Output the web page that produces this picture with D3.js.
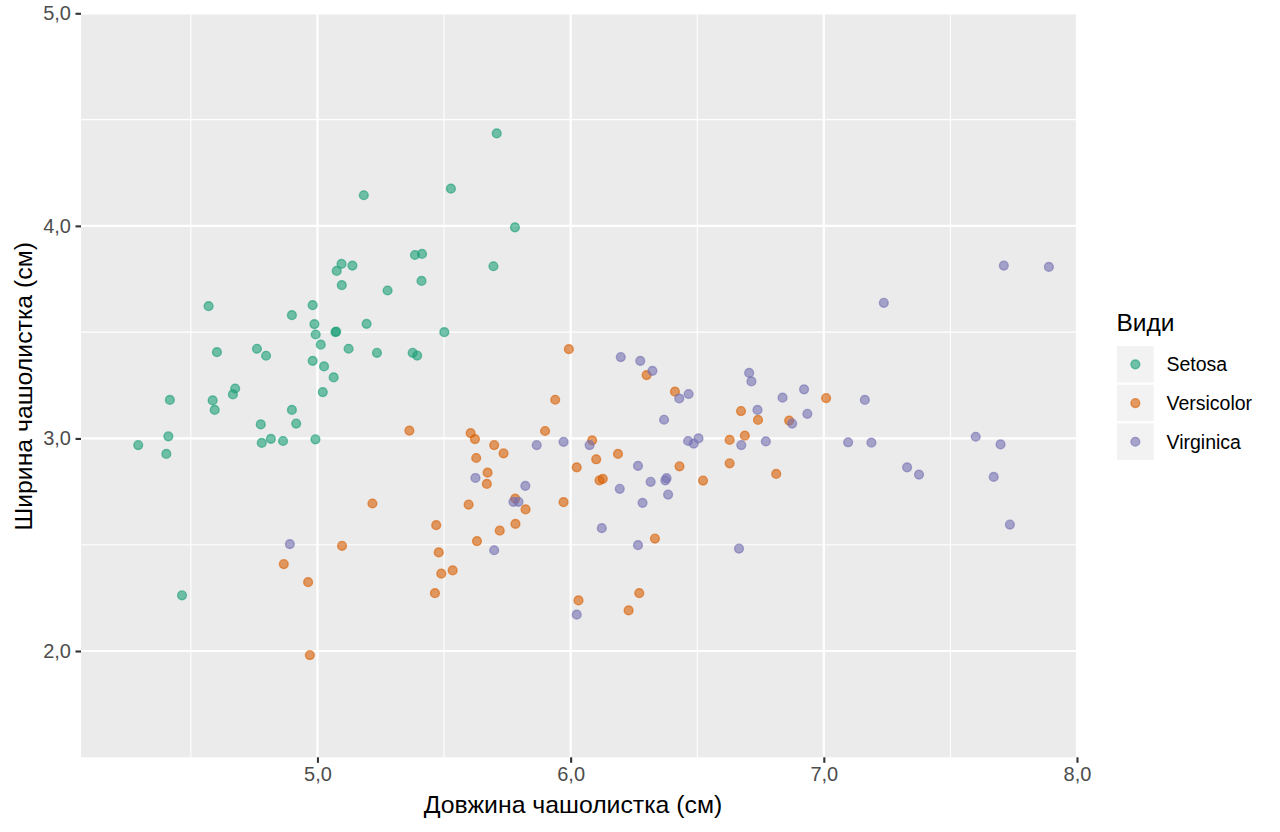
<!DOCTYPE html>
<html>
<head>
<meta charset="utf-8">
<script src="https://cdn.jsdelivr.net/npm/d3@7"></script>
<style>
  html, body { margin: 0; padding: 0; background: #fff; }
  svg { display: block; font-family: "Liberation Sans", Arial, Helvetica, sans-serif; }
</style>
</head>
<body>
<svg id="chart" width="1280" height="832"></svg>
<script>
// ---- Data (sepal length, sepal width) ----
const speciesNames = ["Setosa", "Versicolor", "Virginica"];
const speciesColors = ["#1B9E77", "#D95F02", "#7570B3"];

const setosa = [
  [5.708,4.435],[5.527,4.175],[5.183,4.144],[5.780,3.993],[5.385,3.863],[5.413,3.868],
  [5.695,3.810],[5.095,3.821],[5.138,3.813],[5.076,3.788],[5.096,3.721],[5.411,3.741],
  [5.277,3.696],[4.570,3.622],[4.981,3.627],[4.899,3.580],[4.988,3.538],[5.194,3.539],
  [4.993,3.489],[5.071,3.500],[5.074,3.503],[5.501,3.500],[5.013,3.441],[5.123,3.422],
  [5.235,3.403],[5.376,3.403],[5.394,3.390],[4.603,3.406],[4.761,3.422],[4.797,3.389],
  [4.981,3.365],[5.026,3.339],[5.064,3.287],[5.021,3.218],[4.675,3.235],[4.666,3.207],
  [4.417,3.181],[4.586,3.179],[4.594,3.134],[4.899,3.134],[4.916,3.070],[4.776,3.066],
  [4.411,3.010],[4.816,2.998],[4.780,2.979],[4.864,2.988],[4.992,2.996],[4.292,2.969],
  [4.403,2.927],[4.465,2.262]
];

const versicolor = [
  [5.363,3.037],[5.605,3.025],[5.622,2.997],[5.627,2.908],[5.597,2.689],[5.217,2.694],
  [5.469,2.592],[5.630,2.517],[5.097,2.495],[5.479,2.464],[4.867,2.409],[5.534,2.379],
  [5.489,2.364],[4.963,2.324],[5.464,2.272],[4.970,1.981],[5.993,3.420],[5.939,3.182],
  [5.899,3.035],[5.698,2.969],[5.735,2.930],[5.672,2.839],[5.669,2.786],[5.781,2.717],
  [5.822,2.666],[5.972,2.700],[6.300,3.298],[6.085,2.991],[6.101,2.902],[6.187,2.927],
  [6.024,2.864],[6.114,2.803],[6.127,2.810],[5.782,2.598],[5.720,2.566],[6.333,2.529],
  [6.271,2.272],[6.031,2.238],[6.229,2.191],[6.412,3.220],[6.673,3.129],[6.740,3.087],
  [6.863,3.084],[7.009,3.190],[6.688,3.013],[6.628,2.993],[6.430,2.869],[6.628,2.883],
  [6.523,2.802],[6.812,2.833]
];

const virginica = [
  [4.891,2.503],[5.624,2.814],[6.198,3.383],[6.275,3.365],[6.323,3.318],[6.369,3.088],
  [5.866,2.969],[5.972,2.984],[6.075,2.969],[6.266,2.871],[6.316,2.796],[6.374,2.803],
  [6.379,2.813],[6.194,2.763],[6.284,2.697],[6.385,2.736],[5.821,2.777],[5.774,2.702],
  [5.794,2.702],[6.123,2.578],[6.266,2.498],[5.698,2.474],[6.024,2.171],[6.705,3.308],
  [6.714,3.268],[6.429,3.188],[6.466,3.209],[6.837,3.192],[6.922,3.231],[6.738,3.134],
  [6.935,3.116],[6.875,3.070],[6.464,2.988],[6.486,2.976],[6.505,3.000],[6.674,2.969],
  [6.771,2.986],[6.665,2.482],[7.162,3.181],[7.711,3.813],[7.889,3.807],[7.237,3.638],
  [7.096,2.982],[7.188,2.980],[7.329,2.864],[7.376,2.830],[7.600,3.008],[7.698,2.972],
  [7.671,2.819],[7.735,2.595]
];

const xTicks = [5, 6, 7, 8];
const xMinor = [4.5, 5.5, 6.5, 7.5];
const yTicks = [2, 3, 4, 5];
const yMinor = [2.5, 3.5, 4.5];
const xTitle = "Довжина чашолистка (см)";
const yTitle = "Ширина чашолистка (см)";
const legendTitle = "Види";

// ---- Layout ----
const panel = { left: 81, right: 1077, top: 13.3, bottom: 757.3 };
const svg = d3.select("#chart");
const fmt = d => d3.format(".1f")(d).replace(".", ",");

const x = d3.scaleLinear().domain([4.066, 8.0]).range([panel.left, panel.right]);
const y = d3.scaleLinear().domain([1.5, 5.0]).range([panel.bottom, panel.top]);

// panel background
svg.append("rect")
  .attr("x", panel.left).attr("y", panel.top)
  .attr("width", panel.right - panel.left).attr("height", panel.bottom - panel.top)
  .attr("fill", "#EBEBEB");

const grid = svg.append("g");
// minor grid
grid.selectAll(".xminor").data(xMinor).join("line")
  .attr("x1", d => x(d)).attr("x2", d => x(d))
  .attr("y1", panel.top).attr("y2", panel.bottom)
  .attr("stroke", "#fff").attr("stroke-width", 1.1);
grid.selectAll(".yminor").data(yMinor).join("line")
  .attr("y1", d => y(d)).attr("y2", d => y(d))
  .attr("x1", panel.left).attr("x2", panel.right)
  .attr("stroke", "#fff").attr("stroke-width", 1.1);
// major grid
grid.selectAll(".xmajor").data(xTicks).join("line")
  .attr("x1", d => x(d)).attr("x2", d => x(d))
  .attr("y1", panel.top).attr("y2", panel.bottom)
  .attr("stroke", "#fff").attr("stroke-width", 2.2);
grid.selectAll(".ymajor").data(yTicks).join("line")
  .attr("y1", d => y(d)).attr("y2", d => y(d))
  .attr("x1", panel.left).attr("x2", panel.right)
  .attr("stroke", "#fff").attr("stroke-width", 2.2);

// axes
const xAxis = d3.axisBottom(x).tickValues(xTicks).tickFormat(fmt).tickSize(5.5).tickPadding(4);
const yAxis = d3.axisLeft(y).tickValues(yTicks).tickFormat(fmt).tickSize(5.5).tickPadding(4.5);

const gx = svg.append("g").attr("transform", `translate(0,${panel.bottom})`).call(xAxis);
const gy = svg.append("g").attr("transform", `translate(${panel.left},0)`).call(yAxis);
[gx, gy].forEach(g => {
  g.select(".domain").remove();
  g.selectAll(".tick line").attr("stroke", "#333333").attr("stroke-width", 2.1);
  g.selectAll(".tick text").attr("fill", "#4D4D4D").style("font-size", "20px")
    .style("font-family", "'Liberation Sans', Arial, sans-serif");
});

// points
const groups = [setosa, versicolor, virginica];
const pts = svg.append("g");
groups.forEach((arr, i) => {
  pts.append("g").selectAll("circle").data(arr).join("circle")
    .attr("cx", d => x(d[0])).attr("cy", d => y(d[1]))
    .attr("r", 4.4)
    .attr("fill", speciesColors[i]).attr("fill-opacity", 0.6)
    .attr("stroke", speciesColors[i]).attr("stroke-opacity", 0.6)
    .attr("stroke-width", 1.4);
});

// axis titles
svg.append("text")
  .attr("x", 573).attr("y", 813)
  .attr("text-anchor", "middle").attr("fill", "#000")
  .style("font-size", "24.8px").text(xTitle);
svg.append("text")
  .attr("transform", `translate(32,${(panel.top + panel.bottom) / 2 + 1}) rotate(-90)`)
  .attr("text-anchor", "middle").attr("fill", "#000")
  .style("font-size", "24.8px").text(yTitle);

// legend
const lg = svg.append("g");
lg.append("text").attr("x", 1116.5).attr("y", 330.5)
  .attr("fill", "#000").style("font-size", "24.5px").text(legendTitle);
const keySize = 38.7, keyX = 1116, keyY0 = 345;
speciesNames.forEach((name, i) => {
  const ky = keyY0 + i * keySize;
  lg.append("rect").attr("x", keyX).attr("y", ky)
    .attr("width", keySize).attr("height", keySize)
    .attr("fill", "#F2F2F2").attr("stroke", "#fff").attr("stroke-width", 2);
  lg.append("circle").attr("cx", keyX + keySize / 2).attr("cy", ky + keySize / 2)
    .attr("r", 4.4)
    .attr("fill", speciesColors[i]).attr("fill-opacity", 0.6)
    .attr("stroke", speciesColors[i]).attr("stroke-opacity", 0.6).attr("stroke-width", 1.4);
  lg.append("text").attr("x", 1166.5).attr("y", ky + keySize / 2 + 7)
    .attr("fill", "#000").style("font-size", "19.5px").text(name);
});
</script>
</body>
</html>
